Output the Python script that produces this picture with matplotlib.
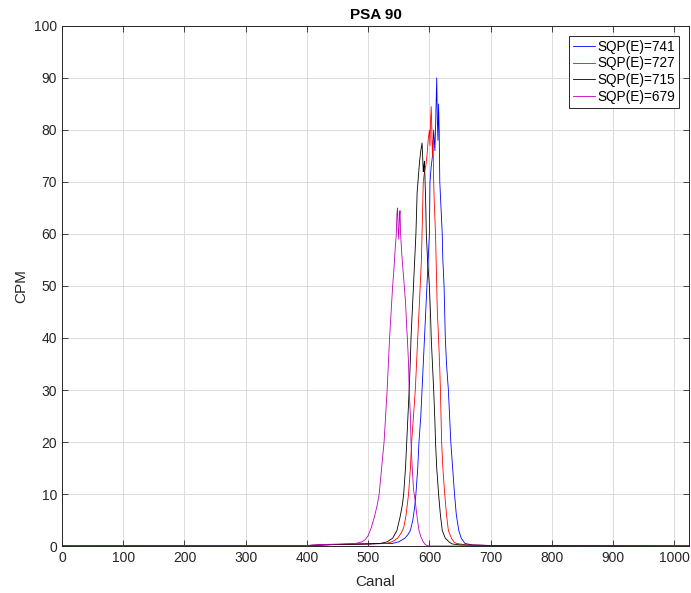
from matplotlib import pyplot as plt

plt.rcParams['font.family'] = ['Liberation Sans', 'DejaVu Sans']

# spectra (canal, CPM)
canal_741 = [0, 400, 450, 500, 540, 550, 560, 565, 569, 573, 576, 578, 581, 583, 586, 588,
             590, 592, 594, 596, 598, 600, 601, 603, 605, 607, 608, 609, 610, 611, 612, 613,
             614, 615, 616, 617, 619, 621, 622, 624, 625, 626, 628, 631, 633, 635, 638, 641,
             644, 648, 652, 658, 670, 700, 1024]
cpm_741 = [0, 0.1, 0.3, 0.4, 0.5, 0.8, 1.5, 2.2, 3, 5, 7.5, 10, 15, 20, 25, 30,
           35, 40, 45, 50, 55, 60, 70, 73, 75, 80, 78, 76, 80, 85, 90, 82,
           78, 85, 80, 70, 65, 60, 55, 50, 45, 40, 35, 30, 25, 20, 15, 10,
           6, 3, 1.5, 0.5, 0.2, 0.1, 0]

canal_727 = [0, 400, 450, 500, 530, 539, 548, 554, 558, 562, 566, 569, 571, 574, 577, 579,
             581, 583, 585, 587, 588, 589, 590, 592, 594, 596, 598, 600, 601, 602, 603, 604,
             605, 606, 607, 608, 610, 612, 613, 615, 617, 618, 620, 622, 625, 628, 631, 636,
             640, 644, 660, 700, 1024]
cpm_727 = [0, 0.1, 0.3, 0.4, 0.5, 0.8, 1.5, 2.5, 3.5, 6, 10, 15, 20, 25, 30, 35,
           40, 45, 50, 55, 60, 65, 70, 72, 73, 75, 78, 80, 77, 82, 84.5, 80,
           75, 78, 70, 66, 60, 50, 45, 40, 34, 30, 20, 15, 10, 6, 3, 1.5,
           0.8, 0.5, 0.2, 0.1, 0]

canal_715 = [0, 400, 450, 500, 520, 531, 540, 547, 552, 556, 558, 561, 563, 565, 567, 569,
             570, 572, 574, 576, 578, 580, 582, 584, 586, 588, 589, 590, 591, 592, 593, 594,
             595, 597, 600, 602, 603, 605, 607, 609, 610, 612, 615, 618, 621, 626, 632, 637,
             650, 700, 1024]
cpm_715 = [0, 0.1, 0.3, 0.4, 0.5, 0.8, 1.5, 3, 5.5, 8, 10, 15, 20, 25, 30, 36,
           40, 45, 50, 55, 60, 68, 71, 74, 76, 77.5, 75, 72, 73, 74, 70, 66,
           60, 55, 50, 44, 40, 35, 30, 24, 20, 15, 10, 6, 3, 1.5, 0.8, 0.4,
           0.2, 0.1, 0]

canal_679 = [0, 400, 430, 460, 480, 490, 495, 500, 505, 510, 515, 518, 522, 526, 529, 531,
             533, 535, 537, 540, 542, 544, 546, 547, 548, 549, 550, 551, 552, 553, 554, 555,
             557, 559, 561, 563, 564, 566, 567, 569, 570, 572, 574, 577, 580, 583, 586, 590,
             593, 596, 600, 620, 700, 1024]
cpm_679 = [0, 0.1, 0.3, 0.4, 0.5, 0.8, 1.2, 2, 3.5, 5.5, 8, 10, 15, 20, 26, 30,
           35, 40, 44, 50, 53, 57, 60, 64, 65, 61, 59, 63, 64.5, 60, 58, 56,
           53, 50, 47, 42, 40, 35, 30, 25, 20, 15, 11, 8.5, 5.5, 3, 1.8, 0.8,
           0.3, 0.1, 0, 0, 0, 0]

fig = plt.figure(figsize=(6.91, 5.93), dpi=100)
ax = fig.add_axes([62 / 691, 47 / 593, 627 / 691, 520 / 593])

ax.plot(canal_741, cpm_741, color='b', lw=0.6, label='SQP(E)=741')
ax.plot(canal_727, cpm_727, color='r', lw=0.6, label='SQP(E)=727')
ax.plot(canal_715, cpm_715, color='k', lw=0.6, label='SQP(E)=715')
ax.plot(canal_679, cpm_679, color='m', lw=0.6, label='SQP(E)=679')

ax.set_xlim(0, 1024)
ax.set_ylim(0, 100)
ax.set_xticks(range(0, 1001, 100))
ax.set_yticks(range(0, 101, 10))
ax.grid(True, color='#dcdcdc', lw=0.7)
ax.set_axisbelow(True)
ax.tick_params(direction='in', top=True, right=True, length=4, width=0.6,
               labelsize=10, colors='#262626')
for s in ax.spines.values():
    s.set_color('#262626')
    s.set_linewidth(0.7)

ax.set_xlabel('Canal', fontsize=11, color='#262626', labelpad=7)
ax.set_ylabel('CPM', fontsize=11, color='#262626')
ax.set_title('PSA 90', fontsize=11, fontweight='bold', pad=5)

leg = ax.legend(loc='upper right', fontsize=9.8, fancybox=False, framealpha=1,
                edgecolor='#262626', handlelength=1.6, borderpad=0.3,
                labelspacing=0.2, handletextpad=0.2, borderaxespad=0.7)
leg.get_frame().set_linewidth(0.7)

fig.savefig('out.png', dpi=100)
